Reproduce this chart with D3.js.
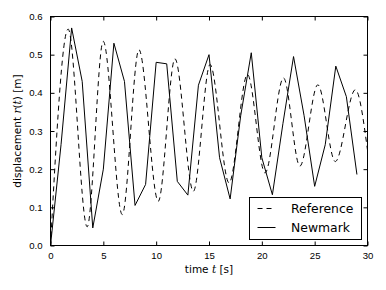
<!DOCTYPE html>
<html>
<head>
<meta charset="utf-8">
<script src="https://cdn.jsdelivr.net/npm/d3@7"></script>
<style>
  body { margin: 0; background: #fff; }
  svg { display: block; font-family: "DejaVu Sans", sans-serif; }
  .axis text { font-size: 9.6px; fill: #000; }
  .axis path { display: none; }
  .axis line { stroke: #000; }
</style>
</head>
<body>
<div id="chart"></div>
<script>
// Newmark solution, one value per second (t = 0 .. 29)
var newmarkT = d3.range(0, 30);
var newmarkY = [0.0, 0.265, 0.57, 0.43, 0.046, 0.20, 0.53, 0.43, 0.105, 0.16,
                0.48, 0.476, 0.168, 0.132, 0.42, 0.50, 0.23, 0.122, 0.34, 0.505,
                0.23, 0.133, 0.32, 0.495, 0.34, 0.155, 0.264, 0.47, 0.39, 0.186];

// reference curve: turning points
var refT = [0, 1.67, 3.47, 4.99, 6.79, 8.37, 10.2, 11.78, 13.52, 15.1,
            16.9, 18.64, 20.3, 22.05, 23.6, 25.3, 26.95, 28.85, 30];
var refY = [0.0, 0.567, 0.049, 0.535, 0.081, 0.513, 0.116, 0.489, 0.142, 0.474,
            0.164, 0.448, 0.19, 0.439, 0.208, 0.421, 0.22, 0.408, 0.25];

var xTicks = [0, 5, 10, 15, 20, 25, 30];
var yTicks = [0.0, 0.1, 0.2, 0.3, 0.4, 0.5, 0.6];
var seriesNames = ['Reference', 'Newmark'];

var W = 386, H = 290;
var margin = {top: 16.5, right: 18.5, bottom: 44.5, left: 50.5};
var width = W - margin.left - margin.right,
    height = H - margin.top - margin.bottom;

var svg = d3.select('#chart').append('svg')
    .attr('width', W).attr('height', H);

var g = svg.append('g')
    .attr('transform', 'translate(' + margin.left + ',' + margin.top + ')');

var x = d3.scaleLinear().domain([0, 30]).range([0, width]);
var y = d3.scaleLinear().domain([0, 0.6]).range([height, 0]);

var refData = refT.map(function (t, i) { return [t, refY[i]]; });
var nmData = newmarkT.map(function (t, i) { return [t, newmarkY[i]]; });

var refLine = d3.line()
    .x(function (d) { return x(d[0]); })
    .y(function (d) { return y(d[1]); })
    .curve(d3.curveMonotoneX);

var nmLine = d3.line()
    .x(function (d) { return x(d[0]); })
    .y(function (d) { return y(d[1]); });

g.append('path')
    .datum(refData)
    .attr('d', refLine)
    .attr('fill', 'none')
    .attr('stroke', '#000')
    .attr('stroke-width', 1)
    .attr('stroke-dasharray', '5,4');

g.append('path')
    .datum(nmData)
    .attr('d', nmLine)
    .attr('fill', 'none')
    .attr('stroke', '#000')
    .attr('stroke-width', 1);

// ticks point inwards on all four sides
g.append('g').attr('class', 'axis')
    .attr('transform', 'translate(0,' + height + ')')
    .call(d3.axisBottom(x).tickValues(xTicks).tickSize(-4).tickPadding(7).tickFormat(d3.format('d')));
g.append('g').attr('class', 'axis')
    .call(d3.axisTop(x).tickValues(xTicks).tickSize(-4).tickFormat(''));
g.append('g').attr('class', 'axis')
    .call(d3.axisLeft(y).tickValues(yTicks).tickSize(-4).tickPadding(8).tickFormat(d3.format('.1f')));
g.append('g').attr('class', 'axis')
    .attr('transform', 'translate(' + width + ',0)')
    .call(d3.axisRight(y).tickValues(yTicks).tickSize(-4).tickFormat(''));

g.append('rect')
    .attr('width', width).attr('height', height)
    .attr('fill', 'none').attr('stroke', '#000').attr('stroke-width', 1);

// axis labels
var xl = svg.append('text')
    .attr('x', margin.left + width / 2)
    .attr('y', 272.5)
    .attr('text-anchor', 'middle')
    .style('font-size', '10.5px');
xl.append('tspan').text('time ');
xl.append('tspan').style('font-family', '"DejaVu Serif", serif').style('font-style', 'italic').text('t');
xl.append('tspan').text(' [s]');

var yl = svg.append('text')
    .attr('transform', 'translate(20.5,' + (margin.top + height / 2) + ') rotate(-90)')
    .attr('text-anchor', 'middle')
    .style('font-size', '10.5px');
yl.append('tspan').text('displacement ');
yl.append('tspan').style('font-family', '"DejaVu Serif", serif').style('font-style', 'italic').text('r');
yl.append('tspan').text('(');
yl.append('tspan').style('font-family', '"DejaVu Serif", serif').style('font-style', 'italic').text('t');
yl.append('tspan').text(') [m]');

// legend
var lg = svg.append('g').attr('transform', 'translate(249.5,197.5)');
lg.append('rect')
    .attr('width', 112).attr('height', 42)
    .attr('fill', '#fff').attr('stroke', '#000').attr('stroke-width', 1);

var items = lg.selectAll('.item')
    .data(seriesNames)
    .enter().append('g')
    .attr('class', 'item')
    .attr('transform', function (d, i) { return 'translate(0,' + (11 + i * 19) + ')'; });

items.append('line')
    .attr('x1', 8).attr('x2', 26)
    .attr('stroke', '#000').attr('stroke-width', 1)
    .attr('stroke-dasharray', function (d, i) { return i === 0 ? '5,4' : null; });

items.append('text')
    .attr('x', 41.5)
    .attr('dy', '0.36em')
    .style('font-size', '12.4px')
    .text(function (d) { return d; });
</script>
</body>
</html>
